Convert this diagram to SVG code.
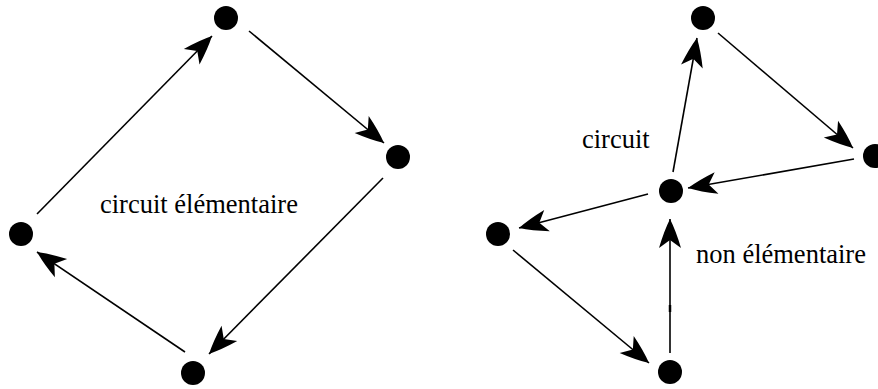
<svg xmlns="http://www.w3.org/2000/svg" width="878" height="389" viewBox="0 0 878 389">
<style>
.node{fill:#000}
.edge{stroke:#000;stroke-width:1.6;fill:none}
.lbl{font-family:"Liberation Serif","Times New Roman",serif;font-size:26.5px;fill:#000}
</style>
<defs>
<marker id="ah" viewBox="-31 -13 33 26" markerWidth="33" markerHeight="26" refX="0" refY="0" orient="auto" markerUnits="userSpaceOnUse">
<path d="M0,0 Q-12,-6 -29,-11 L-21,0 L-29,11 Q-12,6 0,0 Z" fill="#000"/>
</marker>
</defs>
<rect width="878" height="389" fill="#fff"/>
<g id="connectors">
<line class="edge" x1="37" y1="214" x2="212" y2="36" marker-end="url(#ah)"/>
<line class="edge" x1="249" y1="31" x2="384" y2="143" marker-end="url(#ah)"/>
<line class="edge" x1="383" y1="178" x2="209" y2="354" marker-end="url(#ah)"/>
<line class="edge" x1="185" y1="352" x2="37" y2="252" marker-end="url(#ah)"/>
<line class="edge" x1="673" y1="172" x2="697" y2="38" marker-end="url(#ah)"/>
<line class="edge" x1="718" y1="33" x2="853" y2="148" marker-end="url(#ah)"/>
<line class="edge" x1="854" y1="159" x2="688" y2="188" marker-end="url(#ah)"/>
<line class="edge" x1="648" y1="194" x2="519" y2="228" marker-end="url(#ah)"/>
<line class="edge" x1="513" y1="250" x2="649" y2="363" marker-end="url(#ah)"/>
<line class="edge" x1="670" y1="353" x2="670" y2="219" marker-end="url(#ah)"/>
<line x1="670" y1="305" x2="670" y2="312" stroke="#000" stroke-width="2.5"/>
</g>
<g id="n1"><circle class="node" cx="226" cy="18" r="12"/></g>
<g id="n2"><circle class="node" cx="398" cy="157" r="12"/></g>
<g id="n3"><circle class="node" cx="21" cy="234" r="12"/></g>
<g id="n4"><circle class="node" cx="193" cy="373" r="12"/></g>
<g id="m1"><circle class="node" cx="703" cy="18" r="12"/></g>
<g id="m2"><circle class="node" cx="671" cy="191" r="12"/></g>
<g id="m3"><circle class="node" cx="875" cy="156" r="12"/></g>
<g id="m4"><circle class="node" cx="498" cy="234" r="12"/></g>
<g id="m5"><circle class="node" cx="670" cy="372" r="12"/></g>
<g id="labels">
<text class="lbl" x="100" y="213">circuit élémentaire</text>
<text class="lbl" x="582" y="148">circuit</text>
<text class="lbl" x="696" y="263">non élémentaire</text>
</g>
</svg>
